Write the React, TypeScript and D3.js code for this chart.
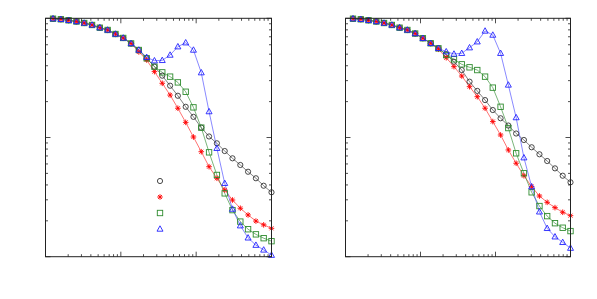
import React from "react";
import * as d3 from "d3";

const xValues = [0.001259, 0.0016, 0.002028, 0.002576, 0.003266, 0.00415, 0.00526, 0.00668, 0.00849, 0.01076, 0.01368, 0.01734, 0.02203, 0.02793, 0.03548, 0.04508, 0.05715, 0.07261, 0.09204, 0.1169, 0.1483, 0.1884, 0.2393, 0.3034, 0.3855, 0.4887, 0.6209, 0.787, 1.0];

const leftCircle = [0.992, 0.981, 0.962, 0.94, 0.913, 0.879, 0.834, 0.798, 0.738, 0.684, 0.615, 0.542, 0.462, 0.393, 0.33, 0.272, 0.224, 0.181, 0.149, 0.121, 0.102, 0.0894, 0.077, 0.0669, 0.0588, 0.0516, 0.0455, 0.0394, 0.0347];
const leftStar = [0.992, 0.981, 0.962, 0.94, 0.913, 0.879, 0.834, 0.798, 0.738, 0.684, 0.615, 0.522, 0.447, 0.357, 0.285, 0.227, 0.176, 0.134, 0.101, 0.076, 0.0569, 0.0455, 0.0363, 0.0299, 0.0255, 0.0224, 0.0199, 0.0185, 0.0173];
const leftSquare = [0.992, 0.981, 0.962, 0.94, 0.913, 0.879, 0.834, 0.798, 0.738, 0.684, 0.615, 0.542, 0.462, 0.393, 0.352, 0.324, 0.29, 0.242, 0.179, 0.121, 0.0751, 0.0485, 0.034, 0.0246, 0.0197, 0.017, 0.0154, 0.0143, 0.0135];
const leftTriangle = [0.992, 0.981, 0.962, 0.94, 0.913, 0.879, 0.834, 0.798, 0.738, 0.684, 0.615, 0.542, 0.471, 0.441, 0.444, 0.492, 0.578, 0.624, 0.542, 0.35, 0.165, 0.0812, 0.0413, 0.0251, 0.0182, 0.0144, 0.0125, 0.0114, 0.0103];

const rightCircle = [0.992, 0.981, 0.962, 0.94, 0.913, 0.879, 0.834, 0.798, 0.745, 0.68, 0.617, 0.56, 0.499, 0.432, 0.368, 0.294, 0.246, 0.206, 0.17, 0.145, 0.126, 0.108, 0.0953, 0.0828, 0.0723, 0.0635, 0.0551, 0.0478, 0.0421];
const rightStar = [0.992, 0.981, 0.962, 0.94, 0.913, 0.879, 0.834, 0.798, 0.745, 0.68, 0.617, 0.55, 0.467, 0.393, 0.328, 0.267, 0.22, 0.176, 0.136, 0.105, 0.0786, 0.0608, 0.0478, 0.0387, 0.0323, 0.0286, 0.0258, 0.0236, 0.0221];
const rightSquare = [0.992, 0.981, 0.962, 0.94, 0.913, 0.879, 0.834, 0.798, 0.745, 0.68, 0.617, 0.56, 0.492, 0.453, 0.411, 0.388, 0.368, 0.324, 0.262, 0.181, 0.12, 0.0737, 0.0501, 0.0347, 0.0266, 0.0219, 0.0191, 0.0175, 0.0164];
const rightTriangle = [0.992, 0.981, 0.962, 0.94, 0.913, 0.879, 0.834, 0.798, 0.745, 0.68, 0.617, 0.56, 0.525, 0.502, 0.509, 0.567, 0.636, 0.783, 0.724, 0.509, 0.276, 0.147, 0.0677, 0.0387, 0.0238, 0.0173, 0.0147, 0.0132, 0.0118];

const xDomain = [0.001, 1];
const yDomain = [0.01, 1];

type Kind = "circle" | "star" | "square" | "triangle";
const styles: Record<Kind, { stroke: string; line: string }> = {
  circle: { stroke: "#333333", line: "#444444" },
  star: { stroke: "#ff0000", line: "#ff3030" },
  square: { stroke: "#2e8b2e", line: "#3a923a" },
  triangle: { stroke: "#2222ff", line: "#5050ff" },
};

function Marker({ kind, x, y }: { kind: Kind; x: number; y: number }) {
  const c = styles[kind].stroke;
  if (kind === "circle") return <circle cx={x} cy={y} r={2.6} fill="none" stroke={c} strokeWidth={0.9} />;
  if (kind === "square") return <rect x={x - 2.7} y={y - 2.7} width={5.4} height={5.4} fill="none" stroke={c} strokeWidth={0.9} />;
  if (kind === "triangle") {
    const h = 3.2;
    return <path d={`M${x},${y - h} L${x + 3},${y + 2.2} L${x - 3},${y + 2.2} Z`} fill="none" stroke={c} strokeWidth={0.9} />;
  }
  const r = 2.8;
  const d = r * 0.707;
  return (
    <path
      d={`M${x - r},${y} L${x + r},${y} M${x},${y - r} L${x},${y + r} M${x - d},${y - d} L${x + d},${y + d} M${x - d},${y + d} L${x + d},${y - d}`}
      stroke={c}
      strokeWidth={0.9}
      fill="none"
    />
  );
}

function Panel({ x0, x1, y0, y1, series, legend }: { x0: number; x1: number; y0: number; y1: number; series: [Kind, number[]][]; legend?: { x: number; y: number } }) {
  const xs = d3.scaleLog().domain(xDomain).range([x0, x1]);
  const ys = d3.scaleLog().domain(yDomain).range([y1, y0]);
  const isMajor = (v: number) => Math.abs(Math.log10(v) - Math.round(Math.log10(v))) < 1e-6;
  const xt = xs.ticks();
  const yt = ys.ticks();
  const line = d3.line<number>().x((_, i) => xs(xValues[i])).y((v) => ys(v));
  const frame = "#222";
  return (
    <g>
      {series.map(([k, vals]) => (
        <path key={"l" + k} d={line(vals) || ""} fill="none" stroke={styles[k].line} strokeWidth={0.8} strokeOpacity={0.85} />
      ))}
      {series.map(([k, vals]) => (
        <g key={"m" + k}>
          {vals.map((v, i) => (
            <Marker key={i} kind={k} x={xs(xValues[i])} y={ys(v)} />
          ))}
        </g>
      ))}
      {legend &&
        series.map(([k], i) => <Marker key={"lg" + k} kind={k} x={legend.x} y={legend.y + i * 16} />)}
      <rect x={x0} y={y0} width={x1 - x0} height={y1 - y0} fill="none" stroke={frame} strokeWidth={1} />
      {xt.map((t, i) => {
        const L = isMajor(t) ? 5 : 2.5;
        const px = xs(t);
        return (
          <g key={"xt" + i}>
            <line x1={px} x2={px} y1={y1} y2={y1 - L} stroke={frame} strokeWidth={0.8} />
            <line x1={px} x2={px} y1={y0} y2={y0 + L} stroke={frame} strokeWidth={0.8} />
          </g>
        );
      })}
      {yt.map((t, i) => {
        const L = isMajor(t) ? 5 : 2.5;
        const py = ys(t);
        return (
          <g key={"yt" + i}>
            <line x1={x0} x2={x0 + L} y1={py} y2={py} stroke={frame} strokeWidth={0.8} />
            <line x1={x1} x2={x1 - L} y1={py} y2={py} stroke={frame} strokeWidth={0.8} />
          </g>
        );
      })}
    </g>
  );
}

export default function App() {
  const leftSeries: [Kind, number[]][] = [
    ["circle", leftCircle],
    ["star", leftStar],
    ["square", leftSquare],
    ["triangle", leftTriangle],
  ];
  const rightSeries: [Kind, number[]][] = [
    ["circle", rightCircle],
    ["star", rightStar],
    ["square", rightSquare],
    ["triangle", rightTriangle],
  ];
  return (
    <svg width={597} height={299} style={{ position: "absolute", left: 0, top: 0, background: "#fff" }}>
      <Panel x0={45.5} x1={271.5} y0={18.3} y1={256.7} series={leftSeries} legend={{ x: 160, y: 181 }} />
      <Panel x0={345.5} x1={570.5} y0={18.3} y1={256.7} series={rightSeries} />
    </svg>
  );
}
